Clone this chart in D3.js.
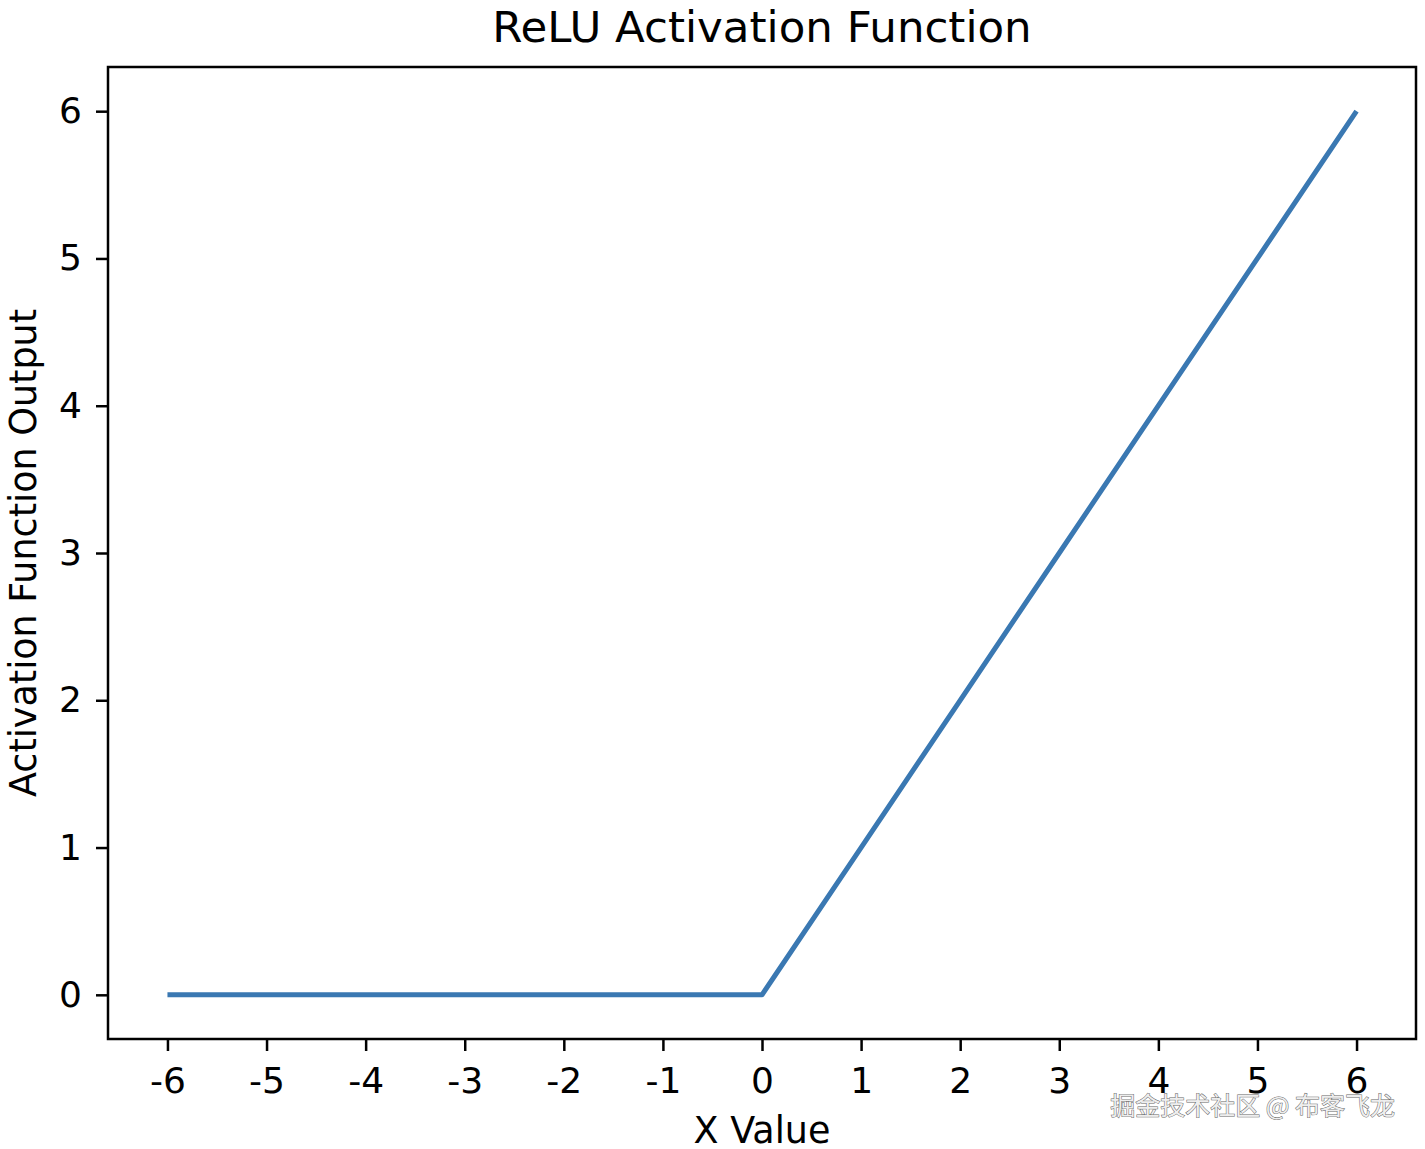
<!DOCTYPE html>
<html>
<head>
<meta charset="utf-8">
<script src="https://cdn.jsdelivr.net/npm/d3@7"></script>
<style>
  body { margin: 0; background: #fff; }
  svg text { font-family: "DejaVu Sans", sans-serif; fill: #000; }
</style>
</head>
<body>
<div class="svg-container"></div>
<script>
const xValues = [-6, -5, -4, -3, -2, -1, 0, 1, 2, 3, 4, 5, 6]
const yValues = [0, 0, 0, 0, 0, 0, 0, 1, 2, 3, 4, 5, 6]
const xTicks = [-6, -5, -4, -3, -2, -1, 0, 1, 2, 3, 4, 5, 6]
const yTicks = [0, 1, 2, 3, 4, 5, 6]

const width = 1425
const height = 1149
const margin = { top: 67, right: 9, bottom: 110, left: 108 }

const svg = d3.select('.svg-container')
  .append('svg')
  .attr('width', width)
  .attr('height', height)

// matplotlib style 5% margins
const xScale = d3.scaleLinear([-6.6, 6.6], [margin.left, width - margin.right])
const yScale = d3.scaleLinear([-0.3, 6.3], [height - margin.bottom, margin.top])

const xAxis = d3.axisBottom(xScale)
  .tickValues(xTicks)
  .tickFormat(d3.format('d'))
  .tickSize(12)
  .tickPadding(16)

const yAxis = d3.axisLeft(yScale)
  .tickValues(yTicks)
  .tickFormat(d3.format('d'))
  .tickSize(12)
  .tickPadding(14)

const points = xValues.map((x, i) => [x, yValues[i]])

svg.append('path')
  .datum(points)
  .attr('fill', 'none')
  .attr('stroke', '#3a78b2')
  .attr('stroke-width', 5)
  .attr('stroke-linejoin', 'round')
  .attr('d', d3.line(d => xScale(d[0]), d => yScale(d[1])))

svg.append('rect')
  .attr('x', margin.left)
  .attr('y', margin.top)
  .attr('width', width - margin.left - margin.right)
  .attr('height', height - margin.top - margin.bottom)
  .attr('fill', 'none')
  .attr('stroke', '#000')
  .attr('stroke-width', 2.5)

const gx = svg.append('g')
  .attr('transform', `translate(0, ${height - margin.bottom})`)
  .call(xAxis)
gx.select('.domain').remove()
gx.selectAll('line').attr('stroke-width', 2.5)
gx.selectAll('text').style('font-size', '36px').text(d => d < 0 ? '-' + Math.abs(d) : d)

const gy = svg.append('g')
  .attr('transform', `translate(${margin.left}, 0)`)
  .call(yAxis)
gy.select('.domain').remove()
gy.selectAll('line').attr('stroke-width', 2.5)
gy.selectAll('text').style('font-size', '36px')

const cx = (margin.left + width - margin.right) / 2

svg.append('text')
  .attr('x', cx)
  .attr('y', 42)
  .attr('text-anchor', 'middle')
  .style('font-size', '43.5px')
  .text('ReLU Activation Function')

svg.append('text')
  .attr('x', cx)
  .attr('y', 1143)
  .attr('text-anchor', 'middle')
  .style('font-size', '36.5px')
  .text('X Value')

svg.append('text')
  .attr('transform', `translate(36, ${(margin.top + height - margin.bottom) / 2}) rotate(-90)`)
  .attr('text-anchor', 'middle')
  .style('font-size', '36.5px')
  .text('Activation Function Output')

svg.append('text')
  .attr('x', 1395)
  .attr('y', 1115)
  .attr('text-anchor', 'end')
  .style('font-family', '"Noto Sans CJK SC", sans-serif')
  .style('font-size', '25px')
  .style('fill', '#eeeeee')
  .style('stroke', '#666')
  .style('stroke-width', 1)
  .style('paint-order', 'stroke')
  .text('掘金技术社区 @ 布客飞龙')
</script>
</body>
</html>
